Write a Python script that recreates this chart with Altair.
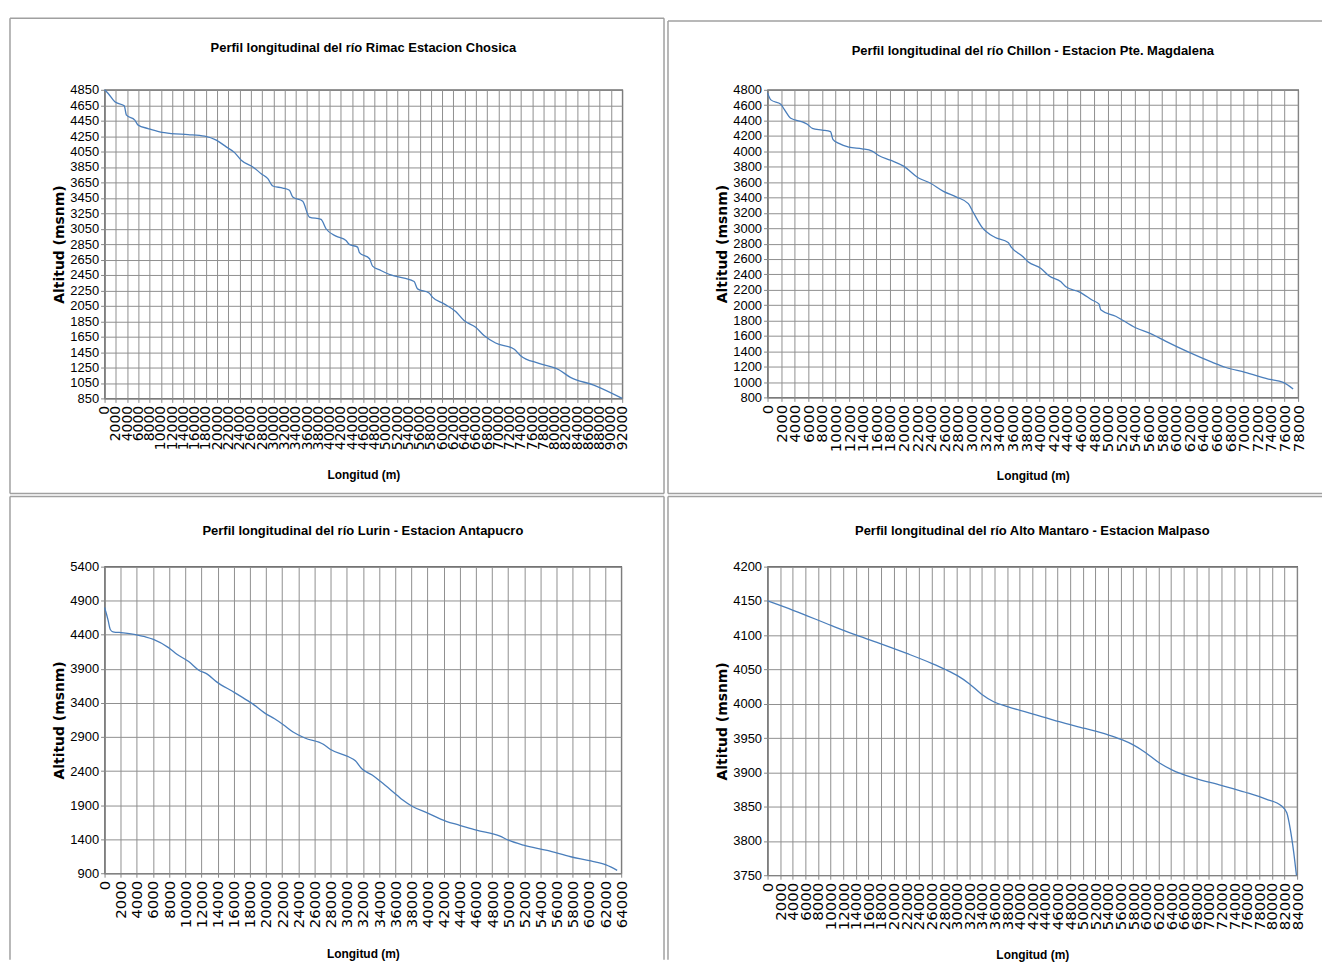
import altair as alt
import pandas as pd

# ---------------- data ----------------
rimac_title = "Perfil longitudinal  del río Rimac Estacion Chosica"
rimac_x = [0, 650, 1830, 3490, 3900, 5380, 5970, 7740, 9800, 11880, 14840, 17790,
           19860, 21630, 23110, 24290, 26360, 27840, 29020, 29900, 31680, 32860,
           33450, 35220, 36400, 38470, 39360, 41130, 42910, 43490, 44970, 45300,
           47100, 47630, 49110, 50890, 53250, 55020, 55620, 57680, 58270, 60340,
           62410, 63890, 65960, 67440, 69500, 72750, 73940, 77190, 80740, 82800,
           86940, 92000]
rimac_y = [4850, 4802, 4694, 4642, 4521, 4456, 4392, 4348, 4305, 4283, 4270, 4249,
           4197, 4110, 4036, 3937, 3850, 3763, 3698, 3603, 3577, 3547,
           3460, 3404, 3201, 3171, 3049, 2954, 2898, 2846, 2811, 2740,
           2660, 2564, 2508, 2451, 2408, 2365, 2270, 2217, 2162, 2075,
           1976, 1859, 1772, 1664, 1568, 1490, 1404, 1304, 1222, 1122,
           1023, 850]

chillon_title = "Perfil longitudinal  del río Chillon - Estacion Pte. Magdalena"
chillon_x = [0, 490, 1950, 2440, 3410, 5120, 5850, 6590, 8050, 9260, 9610, 10490,
             11950, 13900, 15370, 16340, 18050, 20000, 22200, 23900, 25860, 27800,
             29520, 30250, 31460, 33410, 35370, 35850, 37560, 38290, 40200, 41420,
             43130, 43860, 45810, 47770, 48740, 48980, 51180, 54110, 56550, 58500,
             61910, 65330, 67280, 70210, 73620, 75810, 77270]
chillon_y = [4760, 4669, 4613, 4548, 4430, 4382, 4352, 4299, 4277, 4255, 4155, 4103,
             4055, 4033, 4003, 3946, 3885, 3807, 3654, 3588, 3480, 3405,
             3319, 3205, 3022, 2882, 2813, 2752, 2630, 2565, 2477, 2378,
             2303, 2238, 2173, 2064, 2012, 1941, 1855, 1706, 1620, 1532,
             1388, 1258, 1192, 1127, 1039, 996, 909]

lurin_title = "Perfil longitudinal  del río Lurin - Estacion Antapucro"
lurin_x = [0, 420, 710, 1040, 2290, 3960, 5000, 6050, 7920, 8960, 10420, 11670,
           12720, 13970, 15840, 17720, 18350, 19810, 21060, 22100, 23350, 24810,
           27100, 27940, 30230, 31070, 31900, 33150, 34200, 35450, 36270, 36900,
           38150, 40030, 42320, 43990, 46070, 48990, 50030, 51910, 54830, 57750,
           60250, 62120, 63500]
lurin_y = [4800, 4623, 4478, 4444, 4429, 4400, 4371, 4332, 4211, 4114, 4007, 3880,
           3822, 3701, 3570, 3434, 3386, 3254, 3167, 3084, 2973, 2885,
           2793, 2720, 2609, 2550, 2429, 2342, 2245, 2123, 2041, 1978,
           1880, 1783, 1662, 1604, 1531, 1444, 1385, 1312, 1235, 1142,
           1080, 1022, 943]

mantaro_title = "Perfil longitudinal  del río Alto Mantaro - Estacion Malpaso"
mantaro_x = [0, 4160, 10170, 14100, 18100, 22200, 26020, 28210, 30120, 32040,
             33950, 35870, 38050, 42150, 46260, 50360, 53910, 56100, 58010, 59930,
             62110, 64300, 67590, 71960, 75790, 79070, 81540, 82360, 82900, 83450,
             83890]
mantaro_y = [4150, 4136, 4114, 4100, 4087, 4073, 4059, 4050, 4041, 4029,
             4014, 4003, 3996, 3985, 3974, 3964, 3955, 3948, 3940, 3929,
             3914, 3903, 3892, 3881, 3871, 3861, 3851, 3841, 3818, 3784,
             3750]

x_title = "Longitud (m)"
y_title = "Altitud (msnm)"

NARROW = "Liberation Sans Narrow, Arial Narrow, Liberation Sans, sans-serif"
WIDE = "DejaVu Sans, Verdana, sans-serif"
FRAME = "#a0a0a0"


def edge(x0, x1, y0, y1):
    enc = dict(x=alt.value(x0), y=alt.value(y0))
    if x1 != x0:
        enc["x2"] = alt.value(x1)
    if y1 != y0:
        enc["y2"] = alt.value(y1)
    return alt.Chart(pd.DataFrame({"k": [0]})).mark_rule(
        color=FRAME, strokeWidth=1.5).encode(**enc)


def panel(xs, ys, title, xmax, ymin, ymax, ystep, w, h, frame, sides, xfs, toff, xtp):
    df = pd.DataFrame({"Longitud": xs, "Altitud": ys})
    line = alt.Chart(df).mark_line(
        color="#4a7ebb", strokeWidth=1.3, interpolate="monotone"
    ).encode(
        x=alt.X("Longitud:Q",
                scale=alt.Scale(domain=[0, xmax], nice=False, zero=False),
                axis=alt.Axis(values=list(range(0, xmax + 1, 2000)), format="d",
                              title=x_title, labelAngle=-90, labelAlign="right",
                              labelBaseline="middle", labelFont=WIDE, labelFontSize=xfs,
                              labelOverlap=False, labelFlush=False, labelPadding=3,
                              titleFont=NARROW, titleFontSize=12, titleFontWeight="bold",
                              titlePadding=xtp)),
        y=alt.Y("Altitud:Q",
                scale=alt.Scale(domain=[ymin, ymax], nice=False, zero=False),
                axis=alt.Axis(values=list(range(ymin, ymax + 1, ystep)), format="d",
                              title=y_title, labelFont=NARROW, labelFontSize=13,
                              labelOverlap=False, labelFlush=False, labelPadding=2,
                              titleFont=WIDE, titleFontSize=14, titleFontWeight="bold",
                              titlePadding=3)),
    )
    fx0, fx1, fy0, fy1 = frame
    layers = []
    if "t" in sides:
        layers.append(edge(fx0, fx1, fy0, fy0))
    if "l" in sides:
        layers.append(edge(fx0, fx0, fy0, fy1))
    if "r" in sides:
        layers.append(edge(fx1, fx1, fy0, fy1))
    if "b" in sides:
        layers.append(edge(fx0, fx1, fy1, fy1))
    layers.append(line)
    return alt.layer(*layers).properties(
        width=w, height=h,
        title=alt.TitleParams(title, font=NARROW, fontSize=13, fontWeight="bold",
                              color="#000000", anchor="middle", offset=toff),
    )


p1 = panel(rimac_x, rimac_y, rimac_title, 92000, 850, 4850, 200, 520, 310,
           (-95, 562, -72, 405.5), "tlrb", 14, -38, 20)
p2 = panel(chillon_x, chillon_y, chillon_title, 78000, 800, 4800, 200, 533, 309,
           (-100, 557, -69, 405.5), "tlb", 15, -38, 19)
p3 = panel(lurin_x, lurin_y, lurin_title, 64000, 900, 5400, 500, 519, 308,
           (-95, 562, -70.5, 395), "tlr", 15, -42, 21)
p4 = panel(mantaro_x, mantaro_y, mantaro_title, 84000, 3750, 4200, 50, 532, 310,
           (-100, 557, -70.5, 395), "tl", 15, -42, 20)

chart = alt.vconcat(
    alt.hconcat(p1, p2, spacing=0),
    alt.hconcat(p3, p4, spacing=0),
    spacing=0,
).properties(
    padding={"left": 0, "top": 6, "right": 0, "bottom": 0},
    background="white",
).configure_view(
    stroke="#333333", strokeWidth=1.2
).configure_axis(
    grid=True, gridColor="#8f8f8f", gridWidth=1, gridOpacity=1,
    domainColor="#868686", tickColor="#868686", tickSize=4,
    labelColor="#000000", titleColor="#000000",
)

chart.save("out.html", embed_options={"renderer": "svg", "actions": False})
